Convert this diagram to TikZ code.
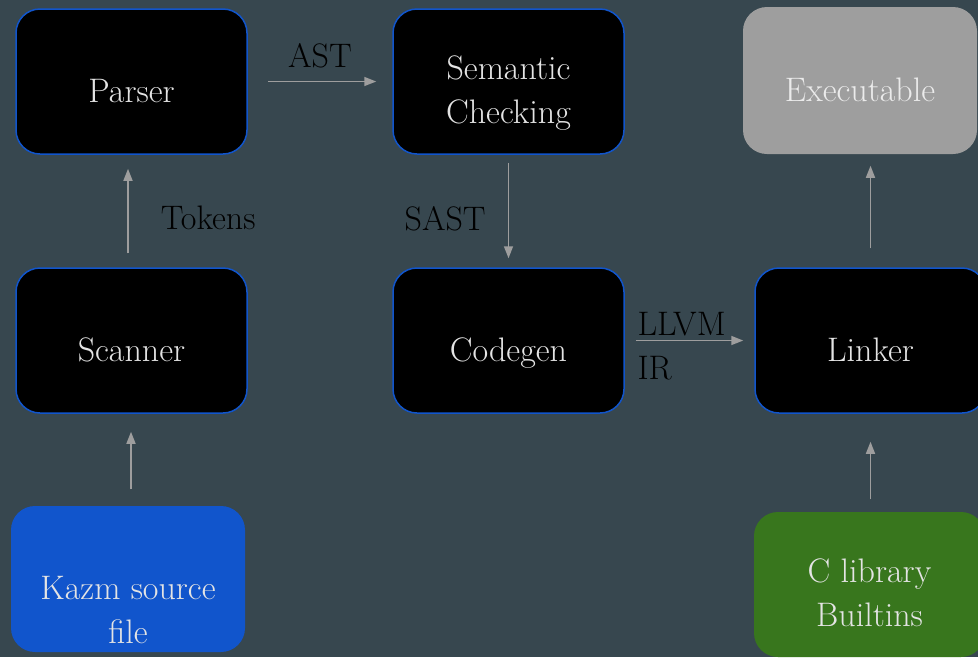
\documentclass[tikz,border=0pt]{standalone}
\usepackage{fontspec}
\usepackage{xcolor}
\usepackage{tikz}
\usetikzlibrary{arrows.meta,positioning}
\definecolor{slate}{HTML}{37474F}
\definecolor{edgeblue}{HTML}{1155CC}
\definecolor{libgreen}{HTML}{38761D}
\definecolor{flowgray}{HTML}{9E9E9E}
\definecolor{boxtext}{HTML}{E4E4E4}
\newcommand{\topgap}[1]{\rule{0pt}{#1}}

\begin{document}
\begin{tikzpicture}[x=1pt,y=-1pt,
    stage/.style={draw=edgeblue,line width=1.5pt,rounded corners=24pt,fill=black,
                  minimum width=231pt,minimum height=145pt,inner sep=2pt,align=center,
                  text=boxtext,font=\fontsize{34}{44}\selectfont},
    single/.style={text height=41pt,text depth=0pt},
    source/.style={stage,draw=none,fill=edgeblue,minimum width=234pt,minimum height=146pt},
    lib/.style={stage,draw=none,fill=libgreen},
    output/.style={stage,single,draw=none,fill=flowgray,text=white!92!black,
                   minimum width=234pt,minimum height=147pt},
    flow/.style={-{Triangle[length=12pt,width=9pt]},line width=1.6pt,flowgray},
    tag/.style={font=\fontsize{34}{44}\selectfont,text=black,align=left,inner sep=0pt}
  ]
    \fill[slate] (0,0) rectangle (978,657);
    \useasboundingbox (0,0) rectangle (978,657);

    \node[stage,single] (parser) at (131.5,81.5) {Parser};
    \node[stage,right=144.5pt of parser] (sem) {\topgap{47pt}Semantic\\Checking};
    \node[stage,single,below=112.5pt of parser] (scanner) {Scanner};
    \node[stage,single,below=112.5pt of sem] (codegen) {Codegen};
    \node[stage,single,right=129.5pt of codegen] (linker) {Linker};
    \node[output] (exe) at (860,80.5) {Executable};
    \node[source] (kazm) at (128,579) {\topgap{86pt}Kazm source\\file};
    \node[lib] (builtins) at (869.5,584.5) {\topgap{41pt}C library\\Builtins};

    \draw[flow,shorten <=20pt,shorten >=16pt] (parser) -- node[tag,above=13pt] {AST} (sem);
    \draw[flow,shorten <=14pt,shorten >=14pt] ([xshift=-3.5pt]scanner.north) --
      node[tag,right=32pt,yshift=-7pt] {Tokens} ([xshift=-3.5pt]parser.south);
    \draw[flow,shorten <=16pt,shorten >=18pt] ([xshift=3pt]kazm.north) -- ([xshift=-0.5pt]scanner.south);
    \draw[flow,shorten <=8pt,shorten >=9pt] (sem) --
      node[tag,left=22pt,yshift=-7.5pt] {SAST} (codegen);
    \draw[flow,shorten <=11pt,shorten >=11pt] (codegen) --
      node[tag,pos=0,anchor=west,xshift=12pt,yshift=-5.5pt] {LLVM\\IR} (linker);
    \draw[flow,shorten <=12pt,shorten >=28pt] ([xshift=1pt]builtins.north) -- (linker.south);
    \draw[flow,shorten <=19pt,shorten >=11pt] (linker.north) -- (exe.south -| linker.north);
\end{tikzpicture}
\end{document}
